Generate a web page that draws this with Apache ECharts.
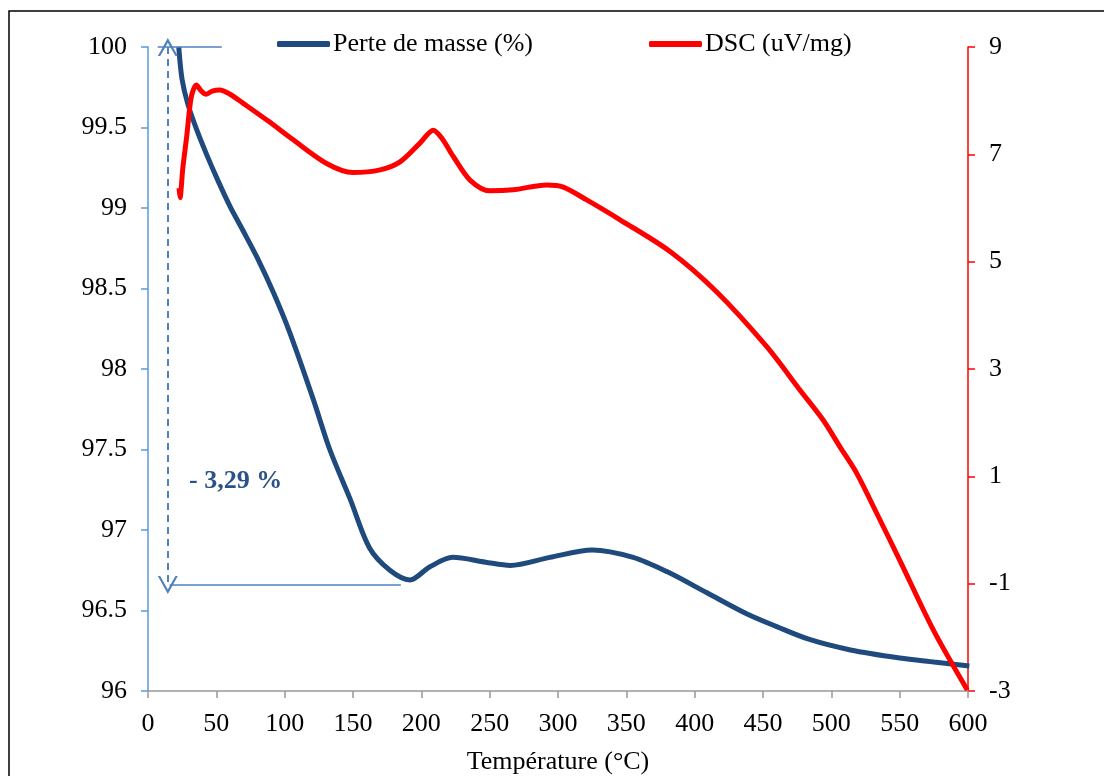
<!DOCTYPE html>
<html>
<head>
<meta charset="utf-8">
<script src="https://cdn.jsdelivr.net/npm/echarts@6/dist/echarts.min.js"></script>
<style>
  html, body { margin: 0; padding: 0; background: #fff; }
  #chart { width: 1104px; height: 776px; }
</style>
</head>
<body>
<div id="chart"></div>
<script>
// temperatures (°C) and mass loss (%)
var massTemp = [22.5, 24.9, 29, 35.9, 43, 51.2, 60, 69.5, 80, 92, 104, 121, 133, 148, 162, 177, 191.7, 206, 223, 247, 265, 294, 325, 355, 380, 409, 438, 460, 484, 514, 550, 575, 601];
var massVal = [100.0, 99.80, 99.65, 99.48, 99.33, 99.17, 99.01, 98.86, 98.69, 98.47, 98.22, 97.81, 97.50, 97.19, 96.89, 96.75, 96.69, 96.77, 96.83, 96.80, 96.78, 96.83, 96.876, 96.83, 96.74, 96.61, 96.48, 96.40, 96.32, 96.255, 96.205, 96.18, 96.155];

// temperatures (°C) and DSC signal (uV/mg)
var dscTemp = [22.7, 23.4, 25.5, 28.3, 31.7, 35.4, 39, 42.7, 47, 52.5, 60, 69.7, 88, 106.3, 130.7, 150, 169.8, 184.4, 199, 208.8, 215, 223.4, 235.6, 250.2, 267.3, 291.7, 303.9, 321, 345.4, 382, 416, 452.6, 477, 494, 506.3, 518.5, 534, 550, 574.6, 599.5];
var dscVal = [6.37, 6.19, 6.75, 7.33, 8.07, 8.29, 8.18, 8.12, 8.18, 8.20, 8.12, 7.95, 7.62, 7.27, 6.83, 6.66, 6.71, 6.86, 7.21, 7.45, 7.30, 6.96, 6.52, 6.32, 6.34, 6.43, 6.39, 6.15, 5.78, 5.19, 4.44, 3.42, 2.61, 2.05, 1.55, 1.06, 0.27, -0.56, -1.86, -2.98];

var massTicks = { min: 96, max: 100, interval: 0.5 };
var dscTicks = { min: -3, max: 9, interval: 2 };
var tempTicks = { min: 0, max: 600, interval: 50 };

// annotation: loss from 100 % down to the minimum
var lossLabel = '- 3,29 %';
var lossTop = 100;
var lossBottom = 96.658;

var font = '"Liberation Serif", "Times New Roman", serif';
var navy = '#1f4a7d';
var annot = '#4f81bd';
var chevron = 'path://M0,10 L5,0 L10,10 L8.8,10 L5,2.6 L1.2,10 Z';

function pairs(xs, ys) {
  return xs.map(function (x, i) { return [x, ys[i]]; });
}

var chart = echarts.init(document.getElementById('chart'));
var option = {
  animation: false,
  backgroundColor: '#fff',
  textStyle: { fontFamily: font },
  grid: { left: 148, right: 136, top: 47, bottom: 85, containLabel: false, outerBoundsMode: 'none' },
  legend: {
    left: 272,
    top: 26,
    itemWidth: 53,
    itemHeight: 6,
    itemGap: 116,
    icon: 'roundRect',
    textStyle: { fontFamily: font, fontSize: 26, color: '#000', padding: [0, 0, 0, -2] },
    data: ['Perte de masse (%)', 'DSC (uV/mg)']
  },
  xAxis: {
    type: 'value',
    min: tempTicks.min,
    max: tempTicks.max,
    interval: tempTicks.interval,
    name: 'Température (°C)',
    nameLocation: 'middle',
    nameGap: 58,
    nameTextStyle: { fontFamily: font, fontSize: 26, color: '#000' },
    axisLine: { show: true, onZero: false, lineStyle: { color: '#999', width: 1.5 } },
    axisTick: { show: true, length: 7, lineStyle: { color: '#999', width: 1.5 } },
    axisLabel: { fontFamily: font, fontSize: 26, color: '#000', margin: 20 },
    splitLine: { show: false }
  },
  yAxis: [{
    type: 'value',
    position: 'left',
    min: massTicks.min,
    max: massTicks.max,
    interval: massTicks.interval,
    axisLine: { show: true, lineStyle: { color: '#5b9bd5', width: 1.5 } },
    axisTick: { show: true, length: 7, lineStyle: { color: '#5b9bd5', width: 1.5 } },
    axisLabel: { fontFamily: font, fontSize: 26, color: '#000', margin: 21 },
    splitLine: { show: false }
  }, {
    type: 'value',
    position: 'right',
    min: dscTicks.min,
    max: dscTicks.max,
    interval: dscTicks.interval,
    axisLine: { show: true, lineStyle: { color: '#ff0000', width: 1.5 } },
    axisTick: { show: true, length: 7, lineStyle: { color: '#ff0000', width: 1.5 } },
    axisLabel: { fontFamily: font, fontSize: 26, color: '#000', margin: 21 },
    splitLine: { show: false }
  }],
  series: [{
    name: 'Perte de masse (%)',
    type: 'line',
    yAxisIndex: 0,
    data: pairs(massTemp, massVal),
    smooth: 0.3,
    showSymbol: false,
    color: navy,
    lineStyle: { color: navy, width: 5 },
    z: 3,
    markLine: {
      silent: true,
      symbol: 'none',
      label: { show: false },
      lineStyle: { color: annot, width: 1.5, type: 'solid' },
      data: [
        [{ coord: [7.1, lossTop] }, { coord: [54, lossTop] }],
        [{ coord: [15.8, lossBottom] }, { coord: [185, lossBottom] }],
        [
          { coord: [14.5, lossTop], symbol: chevron, symbolSize: [20, 18], lineStyle: { type: [7, 5], width: 2, color: annot } },
          { coord: [14.5, lossBottom], symbol: chevron, symbolSize: [20, 18], lineStyle: { type: [7, 5], width: 2, color: annot } }
        ]
      ]
    }
  }, {
    name: 'DSC (uV/mg)',
    type: 'line',
    yAxisIndex: 1,
    data: pairs(dscTemp, dscVal),
    smooth: 0.3,
    showSymbol: false,
    color: '#ff0000',
    lineStyle: { color: '#ff0000', width: 5 },
    z: 4
  }],
  graphic: [{
    type: 'rect',
    shape: { x: 9, y: 11, width: 1200, height: 900 },
    style: { fill: 'none', stroke: '#000', lineWidth: 1.5 },
    silent: true
  }, {
    type: 'text',
    x: 189,
    y: 481,
    style: {
      text: lossLabel,
      font: 'bold 26px "Liberation Serif", serif',
      fill: '#2a5288',
      verticalAlign: 'middle'
    }
  }]
};
chart.setOption(option);
</script>
</body>
</html>
